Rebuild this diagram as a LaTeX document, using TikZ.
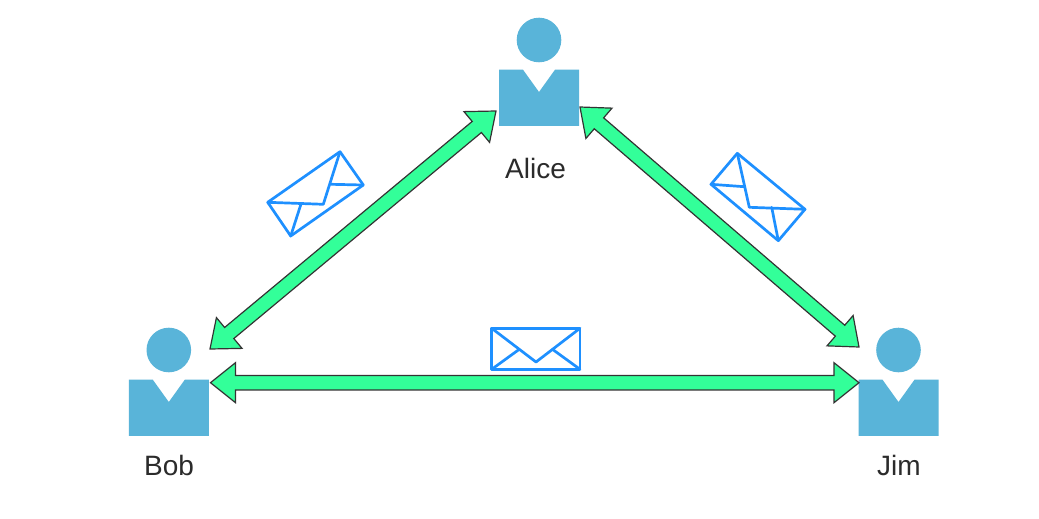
\documentclass[tikz,border=0pt]{standalone}
\usepackage{fontspec}
\setmainfont{Liberation Sans}
\usetikzlibrary{calc}
\definecolor{personblue}{HTML}{59B4D9}
\definecolor{mailblue}{HTML}{1E90FF}
\definecolor{arrowgreen}{HTML}{33FF99}
\definecolor{labelgrey}{HTML}{2B2B2B}
\tikzset{
  personfill/.style={fill=personblue,draw=none},
  personhead/.style={circle,fill=personblue,draw=none,inner sep=0pt,minimum size=44.6pt},
  personlabel/.style={text=labelgrey,font=\fontsize{28}{28}\selectfont,inner sep=0pt},
  blockarrow/.style={fill=arrowgreen,draw=black!80,line width=1.2pt,line join=miter},
  mail/.style={draw=mailblue,line width=2.7pt,line join=round,line cap=round},
}
% #1 name, #2 x of centre, #3 y of head centre, #4 label, #5 x of label, #6 y of label
\newcommand{\personfig}[6]{%
  \node[personhead] (#1head) at (#2,#3) {};
  \fill[personfill,shift={(#2,#3)}] (-40,29.7) -- (-16,29.7) -- (0,52) -- (16,29.7) -- (40,29.7) -- (40,85.9) -- (-40,85.9) -- cycle;
  \node[personlabel] (#1label) at (#5,#6) {#4};
}
% double block arrow between two named coordinates
\newcommand{\blockarr}[2]{%
  \coordinate (ba1) at ($(#1)!25pt!(#2)$);
  \coordinate (ba2) at ($(#2)!25pt!(#1)$);
  \draw[blockarrow]
    (#1)
    -- ($(ba1)!20pt!90:(#2)$)
    -- ($(ba1)!7.2pt!90:(#2)$)
    -- ($(ba2)!7.2pt!-90:(#1)$)
    -- ($(ba2)!20pt!-90:(#1)$)
    -- (#2)
    -- ($(ba2)!20pt!90:(#1)$)
    -- ($(ba2)!7.2pt!90:(#1)$)
    -- ($(ba1)!7.2pt!-90:(#2)$)
    -- ($(ba1)!20pt!-90:(#2)$)
    -- cycle;
}
\begin{document}
\begin{tikzpicture}[x=1pt,y=-1pt]
\useasboundingbox[fill=white] (0,0) rectangle (1039,519);
\personfig{alice}{539}{40}{Alice}{535.5}{168}
\personfig{bob}{168.8}{350}{Bob}{169}{465}
\personfig{jim}{898.5}{350}{Jim}{899}{465}
\coordinate (aliceL) at (496,111);
\coordinate (aliceR) at (580,107);
\coordinate (bobU) at (210,349);
\coordinate (bobR) at (210.5,382.7);
\coordinate (jimU) at (859,347);
\coordinate (jimL) at (859,382.7);
\blockarr{bobU}{aliceL}
\blockarr{aliceR}{jimU}
\blockarr{bobR}{jimL}
% envelopes
\draw[mail] (491.7,328.3) rectangle (580,369.3);
\draw[mail] (491.7,328.3) -- (536,362) -- (580,328.3);
\draw[mail] (491.7,369.3) -- (519,349.5) (580,369.3) -- (552.7,349.5);
\draw[mail] (340,151.7) -- (363.3,185) -- (290.7,236) -- (267.7,202.3) -- cycle;
\draw[mail] (267.7,202.3) -- (323.3,204.3) -- (340,151.7);
\draw[mail] (301,204) -- (290.7,236) (331,184.3) -- (363.3,185);
\draw[mail] (711,184.3) -- (737.3,153.3) -- (805,209.3) -- (778.3,240.7) -- cycle;
\draw[mail] (737.3,153.3) -- (749.3,207.3) -- (805,209.3);
\draw[mail] (711,184.3) -- (744.3,186.7) (778.3,240.7) -- (771.7,207.3);
\end{tikzpicture}
\end{document}
